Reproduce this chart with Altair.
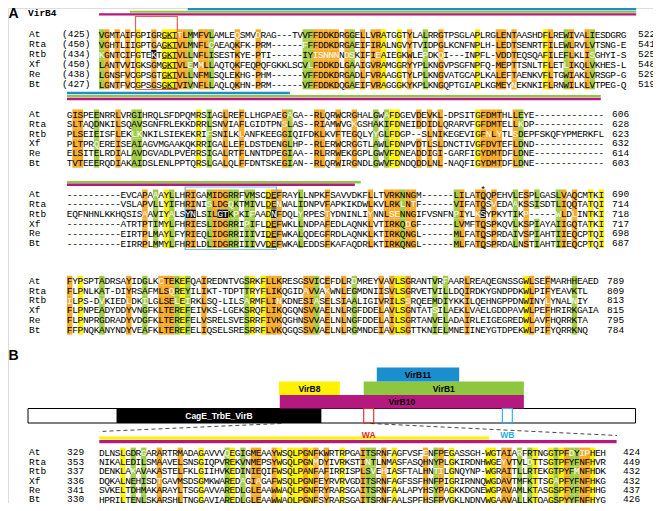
import altair as alt
import pandas as pd
from collections import Counter

alt.data_transformers.disable_max_rows()

names = ["At", "Rta", "Rtb", "Xf", "Re", "Bt"]

b1_first = ["(425)", "(450)", "(434)", "(450)", "(438)", "(427)"]
b1_last = ["522", "541", "525", "548", "529", "519"]
b1_seq = [
    "VGMTAIFGPIGRGKTTLMMFVLAMLEQSMVDRAG---TVVFFDDKDRGGELLVRATGGTYLALRRGTPSGLAPLRGLENTAASHDFLREWIVALIESDGRG",
    "VGHTLIIGPTGAGKTVLMNFLCAEAQKFK-PRM------FFFDDKDRGAEIFIRALNGVYTVIDPGLKCNFNPLH-LEDTSENRTFILEWLRVLVTSNG-E",
    "KGNTCIFGTEKTGKTVLLNFLISESTKYE-PTI------IYISNNNNDSKIFIEAIEGKWLEPDKQI---INPFL-VDDTEQSQAFILEFLKLISGHYI-S",
    "LANTVVIGKSGMGKTVLEMMLLAQTQKFEQPQFGKKLSCVLFDDKDLGAAIGVRAMGGRYYPLKNGVPSGFNPFQ-MEPTTSNLTFLETLIKQLVKHES-L",
    "LGNSFVCGPSGTGKTVLLNFMLSQLEKHG-PHM------VFFDDKDRGADLFVRAAGGTYLPLKNGVATGCAPLKALEFTAENKVFLTGWIAKLVRSGP-G",
    "LGNTFVCGPSGSGKTVIVNFLLAQLQKHN-PRM------VFFDDKDQGAEIFVRAGGGKYKPLKNGQPTGIAPLKGMEYNEKNKIFLRNWILKLVTPEG-Q",
]
b2_last = ["606", "628", "623", "632", "614", "603"]
b2_seq = [
    "GISPEENRRLVRGIHRQLSFDPQMRSIAGLREFLLHGPAEGAGA--RLQRWCRGHALGWAFDGEVDEVKL-DPSITGFDMTHLLEYE-------------",
    "SLTAQDNKILSQAVSGNFRLEKKDRRLSNVIAFLGIDTPNSLAS--RIAMWVGKGSHAKIFDNEIDDIDLQRARVFGFDMTELLKDP-------------",
    "PLSEIEISFLEKLKNKILSIEKEKRIFSNILKLANFKEEGGIQIFDKLKVFTEGQLYYGLFDGP--SLNIKEGEVIGFNLYTLSDEPFSKQFYPMERKFL",
    "PLTPRQEREISEAIAGVMGAAKQKRRIGALLEFLDSTDENGLHP--RLERWCRGGTLAWLFDNPVDTLSLDNCTIVGFDVTEFLDND-------------",
    "ELSITELRDIALAVDGVADLPVERRSIGALRTFLNNTDPEGIAA--RLRRWEKGGPLGWVFDNEADDIGI-GARFIGYDMTDFLDNE-------------",
    "TVTEEERQDIAKAIDSLENLPPTQRSLGALQLFFDNTSKEGIAN--RLQRWIRGNDLGWVFDNDQDDLNL-NAQFIGYDMTDFLDNE-------------",
]
b3_last = ["690", "714", "718", "717", "698", "687"]
b3_seq = [
    "----------EVCAPAAAYLLHRIGAMIDGRRFVMSCDEFRAYLLNPKFSAVVDKFLLTVRKNNGM------LILATQQPEHVLESPLGASLVAQCMTKI",
    "----------VSLAPVLLYIFHRINISLDGQKTMIVLDENWALIDNPVFAPKIKDWLKVLRKLNTF------VIFATQSVEDAAKSSISDTLIQQTATQI",
    "EQFNHNLKKHQSISAAVIYALSYNLSILGTKPKIFAADNFDQLYRPESTYDNINLIYNNLSENNGIFVSNFNPIYLKSYPKYTIKP-----WLDLINTKI",
    "----------ATRTPTIMYLFHRIESLIDGRRIPIFLDEFWKLLNDPAFEDLAQNKLVTIRKQDGF------LVMFTQSPKQVLKSPIAYAIIGQTATKI",
    "----------EIRTPLMAYLFYRIEQLIDGRRIIIVIDEFWKALQDEGFRDLAQNKLKTIRKQNGL------MLFATQSPRDAIVSPIAHTIIEQCPTQI",
    "----------EIRRPLMMYLFHRILDLIDGRRIIIVVDEFWKALEDDSFKAFAQDRLKTIRKQNGL------MLFATQSPRDALNSTIAHTIIEQCPTQI",
]
b4_last = ["789", "809", "813", "815", "795", "784"]
b4_seq = [
    "FYPSPTADRSAYIDGLKCTEKEFQAIREDNTVGSRKFLLKRESGSVICEFDLRDMREYVAVLSGRANTVRFAARLREAQEGNSSGWLSEFMARHHEAED",
    "FLPNLKAT-DIYRSAFMLSQREYILIKT-TDPTTRYFLIKQGIDAVVAKWNLEGMDNIISVLSGRVETVILLDQIRDKYGNDPDKWLPIFYEAVKTL",
    "ILPS-DVKIEDLDKILGLSELEIRKLSQ-LILSARMFLINKDNESIASELSIAALIGIVRILSSRQEEMDIYKKILQEHNGPPDNWINYLYNALNIY",
    "FLPNPEADYDDYVNGFKLTEREFEIVKS-LGEKSRQFLIKQGQNSVVAELNLRGFDDELAVLSGNTATSILAEKLVAELGDDPAVWLPEFHRIRKGAIA",
    "FLPNPRGDRADYVDGFKLTEREFELVSRELSVESRRFIVKQGHNSVVAELNLNGFDDELAILSGRTANVELADAIRLEIGEGREDWLAVFHQRRKTA",
    "FFPNQKANYNDYVEAFKLTEREFELIQSELSRESRRFLVKQGQSSVVAELNLRGMNDEIAVLSGTTKNIELMNEIINEYGTDPEKWLPIFYQRRKNQ",
]
b5_first = ["329", "353", "337", "336", "341", "330"]
b5_last = ["424", "449", "432", "432", "437", "426"]
b5_seq = [
    "DLNSLGDRGARARTRMADAGAVVVQEGIGMEAAYWSQLPGNFKWRTRPGAITSRNFAGFVSFENFPEGASSGH-WGTAIARFRTNGGTPFDYIPHEH",
    "NIKALEDILSMAAVELSNSGIQPVREKVNMEPSYWGQLPGNMDYIVRKSTINTLNMASFASQHNYPLGKIRDNHWGEYVTVLDTTSGTPFYFNFHVR",
    "DENKLAKAVAKASTELFKLGIIHVKEDINIEQIFWSQLPANFAFIRRISPLSVEHIASFTALHNTILGNQYNP-WGRAITLLRTEKGTPYFMNFHDK",
    "DQKALNEHISDTGAVMSDSGMKWAREDAGIAGAFWSQLPGNFEYRVRVGDITSRNFAGFSSFHNFPIGRIRNNQWGDAVTMFKTTSGAPFYFNFHKG",
    "SVKELTDHMAKARAYLTSGGAVVAREDLGLEAAWWAQLPGNFRYRARSGAITSRNFAALAPYHSYPAGKKDGNEWGPAVAMLKTASGSPFYFNFHHG",
    "HPRILTENLSKARSHLTNGGAVIAREDLGLEAAWWAQLPGNFSYRARSGAITSRNFAALSPFHSFPVGKLNDNVWGAAVALLKTQAGSPYYFNFHYG",
]

# domain map of panel B (residue numbers of At VirB4, 789 aa)
prot_len = 789
dom_names = ["CagE_TrbE_VirB", "VirB10", "VirB8", "VirB1", "VirB11"]
dom_start = [115, 327, 326, 436, 453]
dom_end = [381, 644, 405, 644, 560]
dom_level = [0, 1, 2, 2, 3]
motif_names = ["WA", "WB"]
motif_start = [436, 616]
motif_end = [449, 629]

# ---------------- styling / layout ----------------
dom_fill = ["#000000", "#B5197F", "#FFF200", "#8DC63F", "#1B8ECF"]
dom_text = ["#FFFFFF", "#000000", "#000000", "#000000", "#000000"]
motif_color = ["#E3241B", "#29ABE2"]

blocks = [
    dict(seqs=b1_seq, first=b1_first, last=b1_last, x0=99.0, cw=5.22,
         ys=[34.3, 44.3, 54.3, 64.3, 74.3, 84.3], first_x=62, last_x=638),
    dict(seqs=b2_seq, first=None, last=b2_last, x0=67.0, cw=5.37,
         ys=[114.3, 124.0, 133.7, 143.4, 153.1, 162.8], last_x=612),
    dict(seqs=b3_seq, first=None, last=b3_last, x0=67.0, cw=5.37,
         ys=[194.3, 204.0, 213.8, 223.6, 233.4, 243.2], last_x=612),
    dict(seqs=b4_seq, first=None, last=b4_last, x0=67.0, cw=5.37,
         ys=[280.7, 290.5, 300.3, 310.1, 319.9, 329.7], last_x=607),
    dict(seqs=b5_seq, first=b5_first, last=b5_last, x0=99.3, cw=5.22,
         ys=[452.3, 461.7, 471.1, 480.5, 489.9, 499.3], first_x=67, last_x=623),
]
shade = {"y": "#FFF200", "o": "#F7A928", "g": "#A3CB43"}
groups = ["ILVM", "FYW", "KRH", "DE", "NQ", "ST", "AG"]


def similar(a, b):
    return a == b or any(a in g and b in g for g in groups)


def column_shading(chars):
    """yellow: identical in all six; orange: >=5 identical or all six similar;
    green: >=5 similar. Dissimilar residues of a shaded column are written in white."""
    res = [c for c in chars if c not in "- "]
    if len(res) < 5:
        return None, None
    top, n = Counter(res).most_common(1)[0]
    if n == 6:
        return "y", top
    best, ref = 0, None
    for r in sorted(set(res)):
        k = sum(similar(r, c) for c in res)
        if k > best:
            best, ref = k, r
    if n >= 5 or (best == 6 and len(res) == 6):
        return "o", (top if n >= 5 else ref)
    if best >= 5:
        return "g", ref
    return None, None


black_cells = [(0, 2, 10), (2, 2, 22), (2, 2, 23), (2, 2, 28), (2, 2, 29), (2, 2, 38), (2, 2, 77)]
underline_cells = [(0, r, c) for r in range(6) for c in (12, 13, 14)] + \
                  [(2, r, c) for r in (0, 1, 3, 4, 5) for c in (37, 38, 77)]

bars = [  # block, c0, c1, y0, y1, colour
    (0, 17, 102.9, 8.0, 10.2, "#1B8ECF"),
    (0, 5.9, 102.9, 10.7, 12.8, "#8DC63F"),
    (0, 0, 102.9, 13.2, 15.6, "#B5197F"),
    (1, 0, 41.5, 91.7, 94.2, "#1B8ECF"),
    (1, 0, 99.4, 95.0, 97.2, "#8DC63F"),
    (1, 0, 99.4, 97.8, 100.3, "#B5197F"),
    (2, 0, 54.7, 181.0, 183.5, "#8DC63F"),
    (2, 0, 53.6, 183.5, 186.0, "#B5197F"),
    (4, 0, 74.7, 436.6, 439.4, "#FFF200"),
    (4, 0, 99.1, 440.0, 443.3, "#B5197F"),
]
boxes = [  # block, c0, c1, y0, y1, colour
    (0, 7, 15, 16.5, 89.5, "#E0605C"),
    (2, 22, 39, 187.0, 249.5, "#6BBFE3"),
]

cells, rects, names_rows, blacks, ulines = [], [], [], [], []
for bi, b in enumerate(blocks):
    ncol = max(len(s) for s in b["seqs"])
    seqs = [s.ljust(ncol) for s in b["seqs"]]
    rs = b["ys"][1] - b["ys"][0]
    col_info = [column_shading([s[c] for s in seqs]) for c in range(ncol)]
    for ri, s in enumerate(b["seqs"]):
        y = b["ys"][ri]
        names_rows.append(dict(x=29, y=y, t=names[ri]))
        if b["first"]:
            names_rows.append(dict(x=b["first_x"], y=y, t=b["first"][ri]))
        names_rows.append(dict(x=b["last_x"], y=y, t=b["last"][ri]))
        for ci, ch in enumerate(s):
            xl = b["x0"] + ci * b["cw"]
            tc = "#000000"
            lvl, ref = col_info[ci]
            if (bi, ri, ci) in black_cells:
                blacks.append(dict(x=xl, x2=xl + b["cw"], y=y - rs / 2 + 0.5, y2=y + rs / 2 - 0.5))
                tc = "#FFFFFF"
            elif ch != "-" and lvl:
                rects.append(dict(x=xl, x2=xl + b["cw"] + 0.05, y=y - rs / 2, y2=y + rs / 2 + 0.05,
                                  f=shade[lvl]))
                if not similar(ch, ref):
                    tc = "#FFFFFF"
            if (bi, ri, ci) in underline_cells:
                ulines.append(dict(x=xl + 0.3, x2=xl + b["cw"] - 0.3, y=y + 4.0))
            cells.append(dict(x=xl + b["cw"] / 2, y=y + 0.3, t=ch, tc=tc))

bar_rows = [dict(x=blocks[b]["x0"] + c0 * blocks[b]["cw"], x2=blocks[b]["x0"] + c1 * blocks[b]["cw"],
                 y=y0, y2=y1, f=col) for b, c0, c1, y0, y1, col in bars]
box_rows = [dict(x=blocks[b]["x0"] + c0 * blocks[b]["cw"], x2=blocks[b]["x0"] + c1 * blocks[b]["cw"],
                 y=y0, y2=y1, f=col) for b, c0, c1, y0, y1, col in boxes]

# schematic geometry
bx0, bx1 = 28.0, 635.5


def rx(r):
    return bx0 + (r / prot_len) * (bx1 - bx0)


lvl_y = {0: (408.5, 423.0), 1: (395.0, 408.5), 2: (381.5, 395.0), 3: (367.5, 381.5)}
dom_rows = [dict(x=rx(s), x2=rx(e), y=lvl_y[l][0], y2=lvl_y[l][1], f=f, tc=t, t=n,
                 xc=(rx(s) + rx(e)) / 2, yc=(lvl_y[l][0] + lvl_y[l][1]) / 2 + 0.3)
            for n, s, e, l, f, t in zip(dom_names, dom_start, dom_end, dom_level, dom_fill, dom_text)]
motif_rows = [dict(x=rx(s), x2=rx(e), y=408.5, y2=423.0, f=c, t=n, xc=(rx(s) + rx(e)) / 2, yc=434.5)
              for n, s, e, c in zip(motif_names, motif_start, motif_end, motif_color)]
dash_rows = [
    dict(x=rx(329), y=423.5, x2=blocks[4]["x0"], y2=431.5),
    dict(x=rx(445), y=423.5, x2=617.0, y2=435.5),
]

xs = alt.Scale(domain=[8, 653], range=[0, 645], nice=False, zero=False)
ys = alt.Scale(domain=[8, 503], range=[0, 495], nice=False, zero=False)


def X(f):
    return alt.X(f, type="quantitative", scale=xs, axis=None)


def Y(f):
    return alt.Y(f, type="quantitative", scale=ys, axis=None)


SEQ_FONT = "Liberation Mono"
SEQ_SIZE = 9.5

shade_layer = alt.Chart(pd.DataFrame(rects)).mark_rect().encode(
    x=X("x"), x2="x2", y=Y("y"), y2="y2", color=alt.Color("f:N", scale=None))
black_layer = alt.Chart(pd.DataFrame(blacks)).mark_rect(color="#111111").encode(
    x=X("x"), x2="x2", y=Y("y"), y2="y2")
bar_layer = alt.Chart(pd.DataFrame(bar_rows)).mark_rect().encode(
    x=X("x"), x2="x2", y=Y("y"), y2="y2", color=alt.Color("f:N", scale=None))
box_layer = alt.Chart(pd.DataFrame(box_rows)).mark_rect(fillOpacity=0, strokeWidth=1.2).encode(
    x=X("x"), x2="x2", y=Y("y"), y2="y2", stroke=alt.Color("f:N", scale=None))
uline_layer = alt.Chart(pd.DataFrame(ulines)).mark_rule(color="#000000", strokeWidth=0.8).encode(
    x=X("x"), x2="x2", y=Y("y"))
seq_layer = alt.Chart(pd.DataFrame(cells)).mark_text(
    font=SEQ_FONT, fontSize=SEQ_SIZE, baseline="middle", align="center").encode(
    x=X("x"), y=Y("y"), text="t:N", color=alt.Color("tc:N", scale=None))
label_layer = alt.Chart(pd.DataFrame(names_rows)).mark_text(
    font=SEQ_FONT, fontSize=SEQ_SIZE, baseline="middle", align="left", color="#000000").encode(
    x=X("x"), y=Y("y"), text="t:N")
star_layer = alt.Chart(pd.DataFrame([dict(x=blocks[2]["x0"] + 77.5 * blocks[2]["cw"], y=189.5, t="*")])).mark_text(
    font=SEQ_FONT, fontSize=SEQ_SIZE, baseline="middle", align="center", color="#000000").encode(
    x=X("x"), y=Y("y"), text="t:N")
heads = pd.DataFrame([dict(x=8.5, y=13.5, t="A"), dict(x=8.5, y=356, t="B")])
head_layer = alt.Chart(heads).mark_text(font="Liberation Sans", fontSize=14, fontWeight="bold",
                                        baseline="middle", align="left").encode(
    x=X("x"), y=Y("y"), text="t:N")
virb4_layer = alt.Chart(pd.DataFrame([dict(x=28, y=12.5, t="VirB4")])).mark_text(
    font=SEQ_FONT, fontSize=SEQ_SIZE, fontWeight="bold", baseline="middle", align="left").encode(
    x=X("x"), y=Y("y"), text="t:N")

prot_layer = alt.Chart(pd.DataFrame([dict(x=bx0, x2=bx1, y=408.5, y2=423.0)])).mark_rect(
    fill="#FFFFFF", stroke="#000000", strokeWidth=1).encode(x=X("x"), x2="x2", y=Y("y"), y2="y2")
dom_layer = alt.Chart(pd.DataFrame(dom_rows)).mark_rect().encode(
    x=X("x"), x2="x2", y=Y("y"), y2="y2", color=alt.Color("f:N", scale=None))
dom_text_layer = alt.Chart(pd.DataFrame(dom_rows)).mark_text(
    font="Liberation Sans", fontSize=8.5, fontWeight="bold", baseline="middle", align="center").encode(
    x=X("xc"), y=Y("yc"), text="t:N", color=alt.Color("tc:N", scale=None))
motif_layer = alt.Chart(pd.DataFrame(motif_rows)).mark_rect(fillOpacity=0, strokeWidth=1.1).encode(
    x=X("x"), x2="x2", y=Y("y"), y2="y2", stroke=alt.Color("f:N", scale=None))
motif_text_layer = alt.Chart(pd.DataFrame(motif_rows)).mark_text(
    font="Liberation Sans", fontSize=8.5, fontWeight="bold", baseline="middle", align="center").encode(
    x=X("xc"), y=Y("yc"), text="t:N", color=alt.Color("f:N", scale=None))
dash_layer = alt.Chart(pd.DataFrame(dash_rows)).mark_rule(
    color="#333333", strokeWidth=0.9, strokeDash=[4, 3]).encode(
    x=X("x"), y=Y("y"), x2="x2", y2="y2")

chart = alt.layer(
    shade_layer, black_layer, bar_layer, box_layer, uline_layer, seq_layer, label_layer, star_layer,
    head_layer, virb4_layer, prot_layer, dom_layer, dom_text_layer, motif_layer, motif_text_layer,
    dash_layer,
).properties(width=645, height=495, padding=0, autosize=alt.AutoSizeParams(type="none")
).configure_view(stroke=None).configure(background="#FFFFFF")

chart.save("out.html", embed_options={"renderer": "svg", "actions": False})
